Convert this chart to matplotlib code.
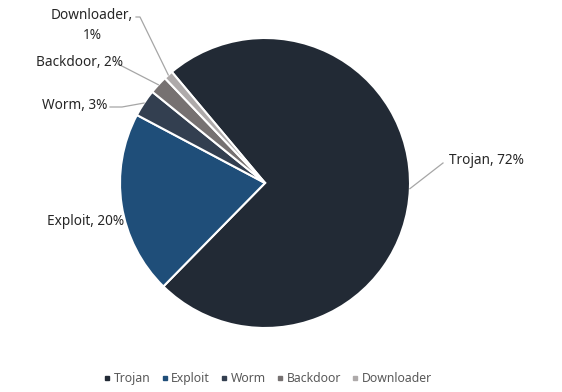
import numpy as np
import matplotlib.pyplot as plt
from matplotlib.lines import Line2D

plt.rcParams['font.family'] = ['Noto Sans', 'DejaVu Sans']

# data
categories = ['Trojan', 'Exploit', 'Worm', 'Backdoor', 'Downloader']
values = [72, 20, 3, 2, 1]
colors = ['#222a35', '#1f4e79', '#333f50', '#767171', '#aeaaaa']

W, H = 562, 392
fig = plt.figure(figsize=(W / 100, H / 100), dpi=100)
ax = fig.add_axes([0, 0, 1, 1])
ax.set_aspect('equal')

cx, cy, r = 265, H - 183, 145
wedges, _ = ax.pie(values, startangle=130, counterclock=False, colors=colors,
                   center=(cx, cy), radius=r, frame=True,
                   wedgeprops=dict(edgecolor='white', linewidth=1.5))
ax.set_xlim(0, W)
ax.set_ylim(0, H)
ax.axis('off')


def edge_point(w):
    a = np.deg2rad((w.theta1 + w.theta2) / 2)
    return cx + r * np.cos(a), cy + r * np.sin(a)


line_kw = dict(color='#a6a6a6', lw=0.9)
txt_kw = dict(fontsize=9.8, color='#262626', va='center')

# Trojan
x0, y0 = edge_point(wedges[0])
ax.plot([x0, 443], [y0, H - 163], **line_kw)
ax.text(449, H - 160, f'{categories[0]}, {values[0]}%', ha='left', **txt_kw)

# Exploit (no leader line)
ax.text(86, H - 221, f'{categories[1]}, {values[1]}%', ha='center', **txt_kw)

# Worm
x0, y0 = edge_point(wedges[2])
ax.plot([x0, 122, 110], [y0, H - 107, H - 107], **line_kw)
ax.text(107, H - 105, f'{categories[2]}, {values[2]}%', ha='right', **txt_kw)

# Backdoor
x0, y0 = edge_point(wedges[3])
ax.plot([x0, 118], [y0, H - 64], **line_kw)
ax.text(123, H - 62, f'{categories[3]}, {values[3]}%', ha='right', **txt_kw)

# Downloader
x0, y0 = edge_point(wedges[4])
ax.plot([x0, 140, 136], [y0, H - 17, H - 17], **line_kw)
ax.text(133, H - 15, f'{categories[4]},', ha='right', **txt_kw)
ax.text(92, H - 35, f'{values[4]}%', ha='center', **txt_kw)

handles = [Line2D([], [], marker='s', ls='', color=c, markersize=3.5) for c in colors]
fig.legend(handles, categories, loc='lower center', bbox_to_anchor=(0.477, -0.01),
           ncol=5, frameon=False, fontsize=8.8, labelcolor='#595959',
           handlelength=0.5, handletextpad=0.3, columnspacing=0.9)

fig.savefig('out.png', dpi=100)
